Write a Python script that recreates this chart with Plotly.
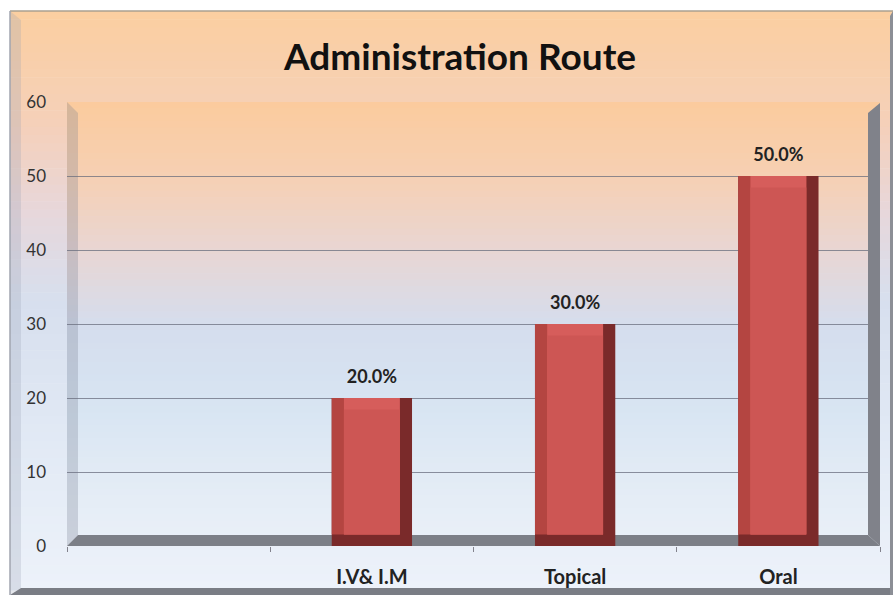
import plotly.graph_objects as go

# ---- data ----
categories = [" ", "I.V& I.M", "Topical", "Oral"]
values = [None, 20, 30, 50]
labels = ["", "20.0%", "30.0%", "50.0%"]
y_ticks = [0, 10, 20, 30, 40, 50, 60]
title_text = "Administration Route"

# ---- geometry (pixels) ----
W, H = 895, 595
L, R, T, B = 67, 15, 102, 49
PW, PH = W - L - R, H - T - B


def px(x):
    return (x - L) / PW


def py(y):
    return 1 - (y - T) / PH


def lerp_stops(stops, f):
    for (f0, c0), (f1, c1) in zip(stops[:-1], stops[1:]):
        if f0 <= f <= f1:
            t = (f - f0) / (f1 - f0) if f1 > f0 else 0
            return tuple(round(a + (b - a) * t) for a, b in zip(c0, c1))
    return stops[-1][1]


shapes = []


def gradient(x0, x1, y0, y1, stops, n=70):
    step = (y1 - y0) / n
    for i in range(n):
        ya = y0 + i * step
        yb = ya + step + 0.6
        c = lerp_stops(stops, (i + 0.5) / n)
        shapes.append(dict(type="rect", xref="paper", yref="paper",
                           x0=px(x0), x1=px(x1), y0=py(yb), y1=py(ya),
                           fillcolor="rgb(%d,%d,%d)" % c, line_width=0, layer="below"))


def poly(points, color, layer="below"):
    d = "M " + " L ".join("%f,%f" % (px(a), py(b)) for a, b in points) + " Z"
    shapes.append(dict(type="path", xref="paper", yref="paper", path=d,
                       fillcolor=color, line_width=0, layer=layer))


outer_stops = [(0, (251, 207, 160)), (0.2, (245, 208, 186)), (0.35, (231, 215, 219)),
               (0.5, (215, 223, 238)), (0.75, (226, 234, 245)), (1, (237, 242, 250))]
wall_stops = [(0, (251, 203, 157)), (0.17, (246, 208, 180)), (0.34, (232, 214, 212)),
              (0.5, (213, 221, 237)), (0.67, (215, 228, 242)), (0.84, (226, 235, 245)),
              (1, (234, 240, 248))]

# outer chart area
gradient(10, 893, 11, 590, outer_stops)
poly([(10, 11), (21, 20), (21, 588), (10, 595)], "rgba(150,160,180,0.25)")
poly([(10, 595), (21, 588), (893, 588), (893, 595)], "rgb(122,125,133)")
poly([(890, 16), (893, 11), (893, 595), (890, 595)], "rgb(140,143,150)")
shapes.append(dict(type="line", xref="paper", yref="paper", x0=px(10), x1=px(893),
                   y0=py(11), y1=py(11), line=dict(color="rgb(170,160,145)", width=1.5), layer="below"))
shapes.append(dict(type="line", xref="paper", yref="paper", x0=px(10), x1=px(10),
                   y0=py(11), y1=py(595), line=dict(color="rgb(160,165,175)", width=1.5), layer="below"))

# back wall of plot
gradient(67, 880, 102, 546, wall_stops)
# left side wall
poly([(67, 102), (78, 113), (78, 535), (67, 546)], "rgba(120,125,145,0.28)")
# floor
poly([(67, 546), (78, 535), (868, 535), (880, 546)], "rgb(124,127,135)")
# right side strip
poly([(868, 113), (880, 103), (880, 546), (868, 535)], "rgb(128,130,138)", layer="above")

# ---- bars (pseudo 3D bevel via overlaid bars) ----
bw = 0.395
strip = 0.06
bev = 1.55
face_w = bw - 2 * strip

fig = go.Figure()
fig.add_trace(go.Bar(x=categories, y=values, width=bw, marker=dict(color="#7a2a2a", line_width=0),
                     hoverinfo="skip", showlegend=False))
fig.add_trace(go.Bar(x=categories, y=[v - bev if v else None for v in values], base=bev,
                     width=bw - strip, offset=-bw / 2,
                     marker=dict(color="#b44541", line_width=0), hoverinfo="skip", showlegend=False))
fig.add_trace(go.Bar(x=categories, y=[v - bev if v else None for v in values], base=bev,
                     width=face_w, offset=-face_w / 2,
                     marker=dict(color="#d65d5b", line_width=0), hoverinfo="skip", showlegend=False))
fig.add_trace(go.Bar(x=categories, y=[v - 2 * bev if v else None for v in values], base=bev,
                     width=face_w, offset=-face_w / 2,
                     marker=dict(color="#cd5654", line_width=0), hoverinfo="skip", showlegend=False))
# data labels
fig.add_trace(go.Scatter(x=categories, y=values, text=labels, mode="markers+text",
                         textposition="top center", marker=dict(size=16, opacity=0),
                         textfont=dict(family="Lato", size=18, color="#222222", weight="bold"),
                         cliponaxis=False, hoverinfo="skip", showlegend=False))

fig.update_layout(
    width=W, height=H,
    margin=dict(l=L, r=R, t=T, b=B, pad=0, autoexpand=False),
    paper_bgcolor="white",
    plot_bgcolor="rgba(0,0,0,0)",
    barmode="overlay",
    shapes=shapes,
    title=dict(text=title_text, x=px(460), xref="paper", xanchor="center",
               y=1 - 57 / H, yanchor="middle",
               font=dict(family="Lato", size=37, color="#111111", weight="bold")),
    font=dict(family="Lato"),
    xaxis=dict(categoryorder="array", categoryarray=categories, range=[-0.5, 3.5],
               showgrid=False, zeroline=False, showline=False, automargin=False,
               ticks="outside", tickson="boundaries", ticklen=5, tickcolor="rgb(130,130,140)",
               tickfont=dict(family="Lato", size=20, color="#222222", weight="bold"),
               ticklabelstandoff=17),
    yaxis=dict(range=[0, 60], tickvals=y_ticks, showgrid=True, automargin=False,
               gridcolor="rgba(105,110,125,0.75)", gridwidth=1.3, zeroline=False, showline=False,
               ticks="", tickfont=dict(family="Lato", size=17, color="#333333"),
               ticklabelstandoff=20),
)

fig.write_html("out.html", config={"displayModeBar": False},
               post_script="document.body.style.margin='0';document.body.style.overflow='hidden';")
